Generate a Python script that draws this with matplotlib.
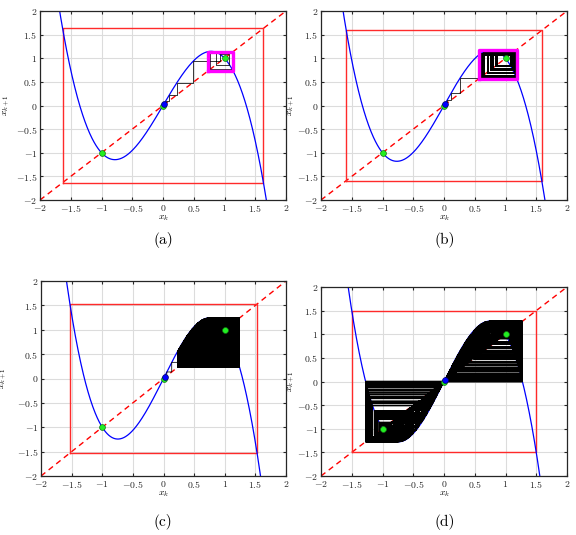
import numpy as np
import matplotlib
matplotlib.use("Agg")
import matplotlib.pyplot as plt
from matplotlib.ticker import FuncFormatter

plt.rcParams["mathtext.fontset"] = "cm"
plt.rcParams["font.family"] = "serif"
plt.rcParams["font.serif"] = ["cmr10", "DejaVu Serif"]
plt.rcParams["axes.unicode_minus"] = False

# cubic map x_{k+1} = (1+c) x_k - c x_k^3, one c per panel
panel_labels = ["(a)", "(b)", "(c)", "(d)"]
c_values = [1.2, 1.31, 1.5, 1.6]
n_iter = [60, 250, 800, 800]
show_attractor_box = [True, True, False, False]
x0 = 0.0215
fixed_points = [-1.0, 0.0, 1.0]
tick_values = [-2, -1.5, -1, -0.5, 0, 0.5, 1, 1.5, 2]

# axes rectangles in pixels: left, right, top, bottom
W, H = 576, 535
panel_px = [
    (40, 286, 11, 200),
    (321, 567, 11, 200),
    (41, 286, 281, 476),
    (321, 567, 287, 476),
]
ylabel_px = [12, 297, 9, 297]
caption_px = [(163, 240), (445, 240), (163, 522), (445, 522)]


def f(x, c):
    return (1 + c) * x - c * x ** 3


fig = plt.figure(figsize=(W / 100, H / 100), dpi=100)

xs = np.linspace(-2.2, 2.2, 800)
fmt = FuncFormatter(lambda v, p: "$%g$" % v)

for i in range(4):
    l, r, t, b = panel_px[i]
    ax = fig.add_axes([l / W, 1 - b / H, (r - l) / W, (b - t) / H])
    c = c_values[i]

    # orbit and its cobweb path (x_k, x_k) -> (x_k, x_k+1) -> (x_k+1, x_k+1)
    x = [x0]
    for k in range(n_iter[i]):
        x.append(f(x[-1], c))
    x = np.array(x)
    cx = np.repeat(x, 2)[:-1]
    cy = np.repeat(x, 2)[1:]

    # square whose corners lie on the curve: f(L) = -L
    L = np.sqrt((2 + c) / c)

    ax.grid(True, color="#dcdcdc", lw=0.8)
    ax.set_axisbelow(True)
    ax.plot([-2, 2], [-2, 2], "--", color="red", lw=1.0, dashes=(4, 3))
    ax.plot([-L, -L, L, L, -L], [-L, L, L, -L, -L], color="#ff2a2a", lw=1.0)
    ax.plot(xs, f(xs, c), color="blue", lw=0.9)
    ax.plot(cx, cy, color="black", lw=0.55)

    if show_attractor_box[i]:
        tail = x[-40:]
        lo, hi = tail.min(), tail.max()
        ax.plot([lo, lo, hi, hi, lo], [lo, hi, hi, lo, lo], color="magenta", lw=2.4)

    ax.plot(fixed_points, fixed_points, "o", ms=4.2, mfc="#22ee22",
            mec="#117711", mew=0.5)
    ax.plot([x0], [x0], "o", ms=4.2, mfc="blue", mec="#000066", mew=0.5)

    ax.set_xlim(-2, 2)
    ax.set_ylim(-2, 2)
    ax.set_xticks(tick_values)
    ax.set_yticks(tick_values)
    ax.xaxis.set_major_formatter(fmt)
    ax.yaxis.set_major_formatter(fmt)
    ax.tick_params(direction="in", length=2.5, width=0.8, labelsize=7,
                   top=True, right=True, pad=2, colors="#262626")
    for s in ax.spines.values():
        s.set_color("#262626")
        s.set_linewidth(0.9)
    ax.set_xlabel("$x_k$", fontsize=7, labelpad=0)
    ax.set_ylabel("$x_{k+1}$", fontsize=7)
    ax.yaxis.set_label_coords((ylabel_px[i] - l) / (r - l), 0.5)

    fx, fy = caption_px[i]
    fig.text(fx / W, 1 - fy / H, panel_labels[i], ha="center", va="center",
             fontsize=11)

fig.savefig("out.png", dpi=100)
